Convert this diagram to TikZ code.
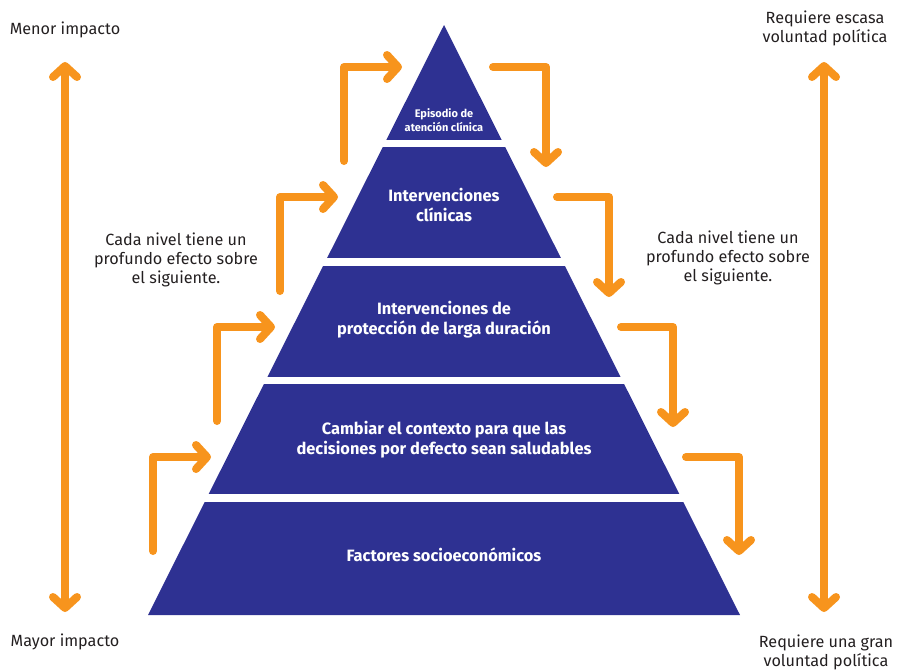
\documentclass[tikz,border=0pt]{standalone}
\usepackage{fontspec}
\setmainfont{Fira Sans}
\usetikzlibrary{arrows.meta}
\definecolor{navy}{HTML}{2E3192}
\definecolor{orng}{HTML}{F7941D}
\definecolor{ink}{HTML}{231F20}
\tikzset{
  flow/.style={draw=orng, line width=8pt, line cap=round, line join=round,
    -{Straight Barb[length=11pt, width=24pt, round]}},
  bothflow/.style={draw=orng, line width=8pt, line cap=round, line join=round,
    {Straight Barb[length=11pt, width=24pt, round]}-{Straight Barb[length=11pt, width=24pt, round]}},
  lvl/.style={text=white, font=\fontsize{16.4}{20}\selectfont\bfseries, align=center, inner sep=0pt},
  lbl/.style={text=ink, font=\fontsize{16.2}{19}\selectfont, align=center, inner sep=0pt},
  gap/.style={fill=white}
}
\begin{document}
\begin{tikzpicture}[x=1pt,y=-1pt]
\useasboundingbox (0,0) rectangle (897,672);
% pyramid
\fill[navy] (444,25) -- (148,615) -- (740,615) -- cycle;
\fill[gap] (100,140) rectangle (800,147);
\fill[gap] (100,258) rectangle (800,266);
\fill[gap] (100,377) rectangle (800,384);
\fill[gap] (100,494) rectangle (800,502);
% level texts
\node[lvl, font=\fontsize{11}{14}\selectfont\bfseries] (l1) at (444,120) {Episodio de\\atención clínica};
\node[lvl] (l2) at (444,205) {Intervenciones\\clínicas};
\node[lvl] (l3) at (444,320) {Intervenciones de\\protección de larga duración};
\node[lvl] (l4) at (444,440) {Cambiar el contexto para que las\\decisiones por defecto sean saludables};
\node[lvl] (l5) at (444,555) {Factores socioeconómicos};
% side labels
\node[lbl] (menor) at (65,30) {Menor impacto};
\node[lbl] (mayor) at (65,642) {Mayor impacto};
\node[lbl] (escasa) at (825,28) {Requiere escasa\\voluntad política};
\node[lbl] (gran) at (826,652) {Requiere una gran\\voluntad política};
\node[lbl] (efl) at (176,260) {Cada nivel tiene un\\profundo efecto sobre\\el siguiente.};
\node[lbl] (efr) at (728,258) {Cada nivel tiene un\\profundo efecto sobre\\el siguiente.};
% arrow coordinates
\coordinate (a1s) at (153,551); \coordinate (a1c) at (153,457); \coordinate (a1e) at (211,457);
\coordinate (a2s) at (217,421); \coordinate (a2c) at (217,327); \coordinate (a2e) at (275,327);
\coordinate (a3s) at (280,291); \coordinate (a3c) at (280,197); \coordinate (a3e) at (338,197);
\coordinate (a4s) at (344,161); \coordinate (a4c) at (344,67);  \coordinate (a4e) at (402,67);
\coordinate (b1s) at (493,67);  \coordinate (b1c) at (546,67);  \coordinate (b1e) at (546,167);
\coordinate (b2s) at (557,197); \coordinate (b2c) at (609,197); \coordinate (b2e) at (609,297);
\coordinate (b3s) at (621,327); \coordinate (b3c) at (673,327); \coordinate (b3e) at (673,427);
\coordinate (b4s) at (686,457); \coordinate (b4c) at (739,457); \coordinate (b4e) at (739,555);
\coordinate (lt) at (65,62);  \coordinate (lb) at (65,612);
\coordinate (rt) at (824,62); \coordinate (rb) at (824,612);
% arrows
\draw[flow] (a1s) -- (a1c) -- (a1e);
\draw[flow] (a2s) -- (a2c) -- (a2e);
\draw[flow] (a3s) -- (a3c) -- (a3e);
\draw[flow] (a4s) -- (a4c) -- (a4e);
\draw[flow] (b1s) -- (b1c) -- (b1e);
\draw[flow] (b2s) -- (b2c) -- (b2e);
\draw[flow] (b3s) -- (b3c) -- (b3e);
\draw[flow] (b4s) -- (b4c) -- (b4e);
\draw[bothflow] (lt) -- (lb);
\draw[bothflow] (rt) -- (rb);
\end{tikzpicture}
\end{document}
